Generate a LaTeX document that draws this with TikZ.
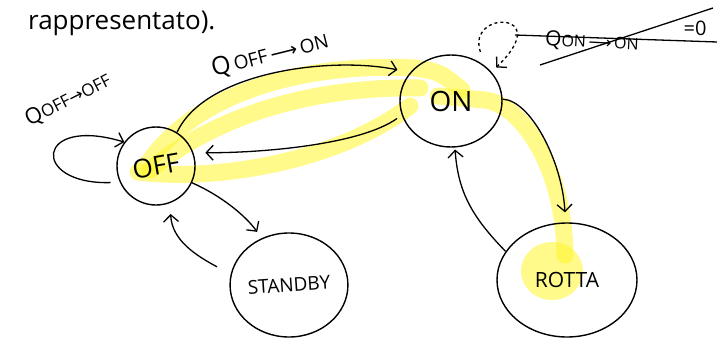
\documentclass[tikz,border=0pt]{standalone}
\usepackage{fontspec}
\setmainfont{Open Sans}
\newfontfamily\arrowfont{DejaVu Sans}
\usetikzlibrary{shapes.geometric,arrows.meta}
\definecolor{hly}{RGB}{255,245,40}
\begin{document}
\begin{tikzpicture}[x=1pt,y=-1pt,
  state/.style={ellipse,draw,line width=1.4pt,inner sep=0pt},
  conn/.style={line width=1.3pt,-{Straight Barb[length=7pt,width=15pt,line width=1.3pt]}},
  hl/.style={line width=17pt,draw=hly,opacity=0.55,line cap=round,line join=round},
  lbl/.style={inner sep=0pt}]
\useasboundingbox (0,0) rectangle (718,340);
% highlighter strokes
\draw[hl] (145,168) .. controls (190,95) and (300,62) .. (415,68) .. controls (440,72) .. (462,90);
\draw[hl] (150,170) .. controls (220,112) and (320,86) .. (420,88);
\draw[hl] (138,172) .. controls (220,182) and (340,160) .. (410,106);
\draw[hl] (438,96) -- (485,100) .. controls (520,104) and (564,165) .. (565,255);
\fill[hly,opacity=0.55] (552,271) ellipse (31pt and 29pt);
% title text
\node[lbl,anchor=base west,font=\fontsize{26}{26}\selectfont] (title) at (28,30) {rappresentato).};
% states
\node[state,minimum width=78pt,minimum height=78pt,font=\fontsize{26}{26}\selectfont] (off) at (156,166) {\rotatebox{10}{OFF}};
\node[state,minimum width=102pt,minimum height=92pt,font=\fontsize{28}{28}\selectfont] (on) at (451,101) {ON\hspace{8pt}};
\node[state,minimum width=112pt,minimum height=104pt,font=\fontsize{19}{19}\selectfont] (standby) at (289,285) {\rotatebox{4}{STANDBY}};
\node[state,minimum width=140pt,minimum height=114pt,font=\fontsize{21}{21}\selectfont] (rotta) at (567,280) {ROTTA\hspace{22pt}};
% labels
\node[lbl,rotate=27,font=\fontsize{17}{17}\selectfont] (qoffoff) at (68,100) {{\fontsize{22}{22}\selectfont Q}OFF{\arrowfont →}OFF};
\node[lbl,rotate=14,font=\fontsize{19}{19}\selectfont] (qoffon) at (270,55) {{\fontsize{25}{25}\selectfont Q}\,OFF\,{\arrowfont ⟶}\,ON};
\node[lbl,rotate=-3,font=\fontsize{16}{16}\selectfont] (qonon) at (592,42) {{\fontsize{21}{21}\selectfont Q}ON\,{\arrowfont ⟶}\,ON};
\node[lbl,font=\fontsize{20}{20}\selectfont] (eqzero) at (695,28) {=0};
% strike-through lines
\draw[line width=1.3pt] (515,35) -- (717,42);
\draw[line width=1.3pt] (540,65) -- (713,8);
% connectors
\draw[conn] (off.58) .. controls (205,72) and (330,56) .. ([xshift=-10pt,yshift=6pt]on.150);
\draw[conn] ([xshift=-6pt]on.200) .. controls (360,145) and (260,153) .. ([xshift=11pt,yshift=3pt]off.15);
\draw[conn] ([xshift=-8pt,yshift=-3pt]off.200) .. controls (30,185) and (35,115) .. (off.143);
\draw[conn] (off.-25) .. controls (220,195) and (245,215) .. ([xshift=-3pt,yshift=7pt]standby.122);
\draw[conn] ([xshift=-16pt]standby.162) .. controls (195,255) and (172,240) .. ([xshift=3pt,yshift=-10pt]off.-73);
\draw[conn] (on.2) .. controls (530,100) and (562,160) .. ([yshift=10pt]rotta.92);
\draw[conn] (rotta.155) .. controls (470,215) and (458,190) .. ([yshift=-2pt]on.-85);
\draw[conn,dashed] ([xshift=7pt,yshift=7pt]on.62) .. controls (466,10) and (556,10) .. ([xshift=6pt,yshift=3pt]on.38);
\end{tikzpicture}
\end{document}
